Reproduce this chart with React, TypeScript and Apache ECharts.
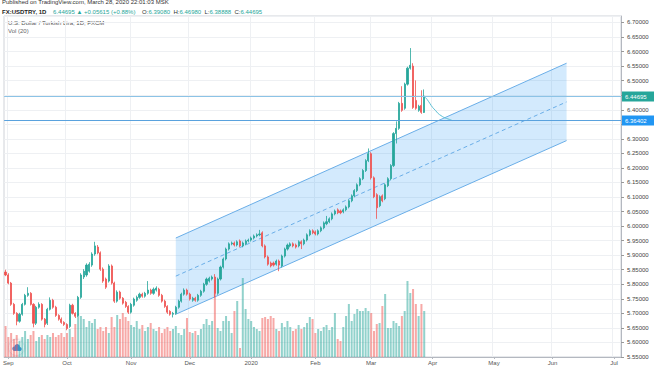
import React, { useEffect, useRef } from 'react';
import * as echarts from 'echarts';

// ---------- data ----------
const START = [2019, 7, 30]; // first bar: 2019-08-30 (weekdays only)
const TOTAL_BARS = 221; // through early July 2020 (future space on the right)
const monthLabels = ['2020', 'Feb', 'Mar', 'Apr', 'May', 'Jun', 'Jul', 'Aug', 'Sep', 'Oct', 'Nov', 'Dec'];
const priceTicks = { min: 5.55, max: 6.7223, step: 0.05 };

// [open, close, low, high]
const ohlc: number[][] = [
  [5.842, 5.832, 5.828, 5.850], [5.832, 5.804, 5.800, 5.838], [5.804, 5.731, 5.726, 5.808], [5.731, 5.700, 5.695, 5.736],
  [5.700, 5.673, 5.659, 5.704], [5.673, 5.697, 5.668, 5.702], [5.697, 5.731, 5.692, 5.736], [5.731, 5.762, 5.727, 5.767],
  [5.762, 5.769, 5.757, 5.790], [5.769, 5.731, 5.727, 5.773], [5.731, 5.666, 5.652, 5.735], [5.666, 5.721, 5.660, 5.726],
  [5.721, 5.731, 5.716, 5.738], [5.731, 5.680, 5.675, 5.735], [5.680, 5.662, 5.652, 5.684], [5.666, 5.714, 5.660, 5.719],
  [5.714, 5.745, 5.710, 5.755], [5.745, 5.721, 5.716, 5.750], [5.721, 5.693, 5.688, 5.726], [5.693, 5.680, 5.675, 5.697],
  [5.680, 5.669, 5.664, 5.686], [5.669, 5.662, 5.657, 5.673], [5.662, 5.648, 5.642, 5.666], [5.655, 5.728, 5.650, 5.733],
  [5.728, 5.700, 5.696, 5.733], [5.700, 5.690, 5.684, 5.704], [5.693, 5.755, 5.688, 5.760], [5.755, 5.832, 5.750, 5.838],
  [5.825, 5.845, 5.818, 5.852], [5.832, 5.866, 5.826, 5.872], [5.845, 5.869, 5.840, 5.876], [5.866, 5.904, 5.860, 5.910],
  [5.904, 5.932, 5.898, 5.946], [5.928, 5.908, 5.903, 5.935], [5.908, 5.852, 5.846, 5.913], [5.852, 5.811, 5.805, 5.858],
  [5.818, 5.790, 5.784, 5.823], [5.811, 5.863, 5.806, 5.869], [5.863, 5.804, 5.799, 5.868], [5.804, 5.742, 5.736, 5.809],
  [5.742, 5.773, 5.737, 5.779], [5.773, 5.752, 5.747, 5.778], [5.752, 5.735, 5.730, 5.756], [5.738, 5.724, 5.719, 5.743],
  [5.724, 5.704, 5.698, 5.728], [5.704, 5.731, 5.699, 5.736], [5.728, 5.749, 5.723, 5.754], [5.745, 5.755, 5.740, 5.761],
  [5.755, 5.766, 5.750, 5.771], [5.766, 5.759, 5.754, 5.771], [5.759, 5.769, 5.754, 5.774], [5.769, 5.780, 5.764, 5.811],
  [5.780, 5.769, 5.764, 5.785], [5.769, 5.783, 5.764, 5.789], [5.780, 5.787, 5.775, 5.793], [5.783, 5.762, 5.757, 5.788],
  [5.762, 5.742, 5.737, 5.767], [5.742, 5.724, 5.719, 5.747], [5.724, 5.704, 5.698, 5.728], [5.707, 5.697, 5.692, 5.711],
  [5.697, 5.700, 5.686, 5.705], [5.700, 5.721, 5.695, 5.726], [5.721, 5.742, 5.716, 5.747], [5.742, 5.766, 5.737, 5.771],
  [5.766, 5.780, 5.761, 5.786], [5.780, 5.766, 5.761, 5.785], [5.766, 5.749, 5.744, 5.771], [5.745, 5.752, 5.740, 5.757],
  [5.752, 5.745, 5.740, 5.757], [5.745, 5.762, 5.740, 5.767], [5.762, 5.776, 5.757, 5.781], [5.776, 5.800, 5.771, 5.805],
  [5.800, 5.818, 5.795, 5.823], [5.811, 5.821, 5.806, 5.826], [5.818, 5.825, 5.813, 5.830], [5.825, 5.769, 5.755, 5.835],
  [5.769, 5.818, 5.764, 5.823], [5.818, 5.859, 5.813, 5.864], [5.859, 5.887, 5.854, 5.892], [5.887, 5.921, 5.882, 5.926],
  [5.921, 5.939, 5.916, 5.944], [5.939, 5.942, 5.934, 5.947], [5.942, 5.935, 5.930, 5.947], [5.935, 5.946, 5.930, 5.951],
  [5.949, 5.932, 5.927, 5.954], [5.932, 5.942, 5.927, 5.947], [5.939, 5.949, 5.934, 5.954], [5.949, 5.952, 5.944, 5.957],
  [5.952, 5.959, 5.947, 5.964], [5.959, 5.966, 5.954, 5.971], [5.966, 5.970, 5.961, 5.975], [5.970, 5.973, 5.965, 5.987],
  [5.977, 5.932, 5.927, 5.982], [5.932, 5.894, 5.889, 5.937], [5.894, 5.869, 5.864, 5.899], [5.873, 5.863, 5.858, 5.878],
  [5.873, 5.866, 5.861, 5.878], [5.869, 5.880, 5.864, 5.885], [5.880, 5.866, 5.845, 5.885], [5.863, 5.897, 5.858, 5.902],
  [5.897, 5.921, 5.892, 5.926], [5.921, 5.935, 5.916, 5.940], [5.932, 5.939, 5.927, 5.944], [5.939, 5.932, 5.927, 5.944],
  [5.935, 5.928, 5.923, 5.940], [5.932, 5.946, 5.927, 5.951], [5.946, 5.939, 5.921, 5.951], [5.939, 5.952, 5.934, 5.957],
  [5.952, 5.970, 5.947, 5.975], [5.970, 5.984, 5.965, 5.989], [5.984, 5.977, 5.972, 5.989], [5.980, 5.973, 5.968, 5.985],
  [5.973, 5.984, 5.968, 5.989], [5.984, 5.994, 5.979, 5.999], [5.994, 6.011, 5.989, 6.016], [6.008, 6.015, 6.003, 6.035],
  [6.015, 6.025, 6.010, 6.030], [6.025, 6.042, 6.020, 6.047], [6.042, 6.052, 6.037, 6.057], [6.056, 6.046, 6.041, 6.061],
  [6.052, 6.046, 6.041, 6.057], [6.049, 6.056, 6.044, 6.061], [6.056, 6.066, 6.051, 6.071], [6.066, 6.087, 6.061, 6.092],
  [6.087, 6.104, 6.082, 6.109], [6.104, 6.122, 6.099, 6.127], [6.122, 6.142, 6.117, 6.147], [6.142, 6.163, 6.137, 6.168],
  [6.163, 6.191, 6.158, 6.196], [6.191, 6.225, 6.186, 6.230], [6.225, 6.249, 6.220, 6.267], [6.249, 6.166, 6.160, 6.254],
  [6.166, 6.101, 6.096, 6.171], [6.108, 6.063, 6.025, 6.113], [6.070, 6.101, 6.065, 6.106], [6.104, 6.087, 6.082, 6.109],
  [6.094, 6.142, 6.089, 6.147], [6.139, 6.163, 6.134, 6.168], [6.163, 6.208, 6.158, 6.213], [6.208, 6.318, 6.203, 6.323],
  [6.318, 6.336, 6.284, 6.360], [6.336, 6.422, 6.331, 6.427], [6.422, 6.398, 6.393, 6.481], [6.405, 6.488, 6.400, 6.493],
  [6.488, 6.543, 6.483, 6.548], [6.543, 6.553, 6.538, 6.612], [6.550, 6.408, 6.403, 6.560], [6.432, 6.405, 6.400, 6.501],
  [6.398, 6.412, 6.393, 6.417], [6.415, 6.391, 6.386, 6.467], [6.3908, 6.44695, 6.38888, 6.4698],
];

// volume (thousands, arbitrary units)
const volumes: number[] = [
  31, 20, 24, 18, 22, 16, 20, 26, 18, 22, 26, 16, 20, 22, 18, 22, 20, 24, 20, 22,
  24, 20, 24, 28, 20, 33, 43, 41, 38, 30, 36, 34, 38, 28, 30, 26, 30, 24, 40, 30,
  42, 38, 44, 40, 36, 32, 30, 36, 28, 32, 26, 30, 34, 28, 26, 30, 24, 28, 30, 26,
  28, 31, 24, 22, 28, 39, 25, 24, 26, 22, 28, 33, 38, 32, 36, 77, 29, 26, 36, 41,
  36, 24, 46, 56, 9, 79, 48, 38, 36, 30, 28, 26, 39, 40, 38, 41, 39, 28, 26, 34,
  30, 36, 30, 26, 28, 32, 28, 30, 34, 40, 38, 24, 28, 26, 30, 32, 27, 30, 44, 18,
  16, 30, 41, 53, 36, 43, 48, 46, 46, 49, 46, 44, 26, 33, 34, 51, 63, 29, 29, 36,
  34, 31, 41, 46, 76, 64, 68, 53, 41, 53, 46,
];
const volumeAxisMax = 341;

// projection curve after last bar
const tailStart = 150;
const tailCurve = [6.446, 6.436, 6.422, 6.408, 6.398, 6.387, 6.380, 6.374, 6.370, 6.367, 6.363];

// parallel channel (bar index, price)
const channelIdx = [61, 201];
const channelTop = [5.959, 6.56];
const channelBottom = [5.697, 6.294];

// horizontal price levels: last price, drawn line
const levelPrices = [6.44695, 6.36402];
const levelLineColors = ['#8cc3e6', '#5aa2de'];
const levelBoxColors = ['#26a69a', '#2196f3'];
const hiddenTickLabels = ['6.45000', '6.35000']; // covered by the price boxes

const UP = '#26a69a';
const DOWN = '#ef5350';
const FONT = '"Liberation Sans", Arial, sans-serif';

function buildDates(): string[] {
  const out: string[] = [];
  const d = new Date(Date.UTC(START[0], START[1], START[2]));
  while (out.length < TOTAL_BARS) {
    const wd = d.getUTCDay();
    if (wd !== 0 && wd !== 6) out.push(d.toISOString().slice(0, 10));
    d.setUTCDate(d.getUTCDate() + 1);
  }
  return out;
}

export default function App() {
  const ref = useRef<HTMLDivElement>(null);

  useEffect(() => {
    if (!ref.current) return;
    const chart = echarts.init(ref.current, null, { renderer: 'svg' });
    const dates = buildDates();
    const isMonthStart = (i: number) => i > 0 && dates[i].slice(5, 7) !== dates[i - 1].slice(5, 7);

    const volData = volumes.map((v, i) => ({
      value: v,
      itemStyle: { color: ohlc[i][1] >= ohlc[i][0] ? 'rgba(38,166,154,0.5)' : 'rgba(239,83,80,0.5)' },
    }));

    const lineStroke = '#6aaee8';

    const option: any = {
      animation: false,
      backgroundColor: '#ffffff',
      textStyle: { fontFamily: FONT },
      grid: { left: 4, right: 33, top: 16, bottom: 9 },
      xAxis: {
        type: 'category',
        data: dates,
        boundaryGap: true,
        axisLine: { show: true, lineStyle: { color: '#b4b8c0' } },
        axisTick: { show: true, length: 2, alignWithLabel: true, interval: (i: number) => isMonthStart(i), lineStyle: { color: '#b4b8c0' } },
        axisLabel: {
          interval: (i: number) => isMonthStart(i),
          formatter: (v: string) => monthLabels[parseInt(v.slice(5, 7), 10) - 1],
          fontSize: 6, color: '#555', margin: 3, fontFamily: FONT,
        },
        splitLine: { show: true, interval: (i: number) => isMonthStart(i), lineStyle: { color: '#eef0f3', width: 1 } },
      },
      yAxis: [
        {
          type: 'value', position: 'right', min: priceTicks.min, max: priceTicks.max, interval: priceTicks.step,
          axisLine: { show: true, lineStyle: { color: '#b4b8c0' } },
          axisTick: { show: true, length: 3, lineStyle: { color: '#999' } },
          axisLabel: {
            fontSize: 6, color: '#444', margin: 6, showMaxLabel: false, fontFamily: FONT,
            formatter: (v: number) => {
              const s = v.toFixed(5);
              return hiddenTickLabels.indexOf(s) >= 0 ? '' : s;
            },
          },
          splitLine: { show: true, lineStyle: { color: '#eef0f3', width: 1 } },
        },
        { type: 'value', min: 0, max: volumeAxisMax, show: false, splitLine: { show: false } },
      ],
      series: [
        {
          type: 'custom',
          name: 'channel',
          silent: true,
          z: 1,
          clip: false,
          data: [[channelIdx[0], channelTop[0]]],
          renderItem: (_p: any, api: any) => {
            const tl = api.coord([channelIdx[0], channelTop[0]]);
            const tr = api.coord([channelIdx[1], channelTop[1]]);
            const bl = api.coord([channelIdx[0], channelBottom[0]]);
            const br = api.coord([channelIdx[1], channelBottom[1]]);
            const ml = [(tl[0] + bl[0]) / 2, (tl[1] + bl[1]) / 2];
            const mr = [(tr[0] + br[0]) / 2, (tr[1] + br[1]) / 2];
            return {
              type: 'group',
              children: [
                { type: 'polygon', shape: { points: [tl, tr, br, bl] }, style: { fill: 'rgba(33,150,243,0.2)', stroke: 'none' } },
                { type: 'line', shape: { x1: tl[0], y1: tl[1], x2: tr[0], y2: tr[1] }, style: { stroke: lineStroke, lineWidth: 1 } },
                { type: 'line', shape: { x1: bl[0], y1: bl[1], x2: br[0], y2: br[1] }, style: { stroke: lineStroke, lineWidth: 1 } },
                { type: 'line', shape: { x1: ml[0], y1: ml[1], x2: mr[0], y2: mr[1] }, style: { stroke: lineStroke, lineWidth: 1, lineDash: [4, 3] } },
              ],
            };
          },
        },
        {
          type: 'bar',
          name: 'Vol',
          yAxisIndex: 1,
          data: volData,
          barWidth: '72%',
          silent: true,
          z: 2,
        },
        {
          type: 'candlestick',
          name: 'USDTRY',
          data: ohlc,
          barWidth: 1.6,
          z: 3,
          itemStyle: { color: UP, color0: DOWN, borderColor: UP, borderColor0: DOWN, borderWidth: 0.8 },
        },
        {
          type: 'custom',
          name: 'projection',
          silent: true,
          z: 4,
          clip: false,
          data: [[tailStart, tailCurve[0]]],
          renderItem: (_p: any, api: any) => {
            const pts = tailCurve.map((v, k) => api.coord([tailStart + k, v]));
            return {
              type: 'polyline',
              shape: { points: pts, smooth: 0.4 },
              style: { stroke: '#5cc0d4', lineWidth: 1, fill: 'none' },
            };
          },
        },
        {
          type: 'custom',
          name: 'levels',
          silent: true,
          z: 5,
          clip: false,
          data: levelPrices.map((p) => [0, p]),
          renderItem: (params: any, api: any) => {
            const cs = params.coordSys;
            const i = params.dataIndex;
            const price = api.value(1);
            const y = Math.round(api.coord([0, price])[1]) + 0.5;
            const right = cs.x + cs.width;
            return {
              type: 'group',
              children: [
                { type: 'line', shape: { x1: cs.x, y1: y, x2: right, y2: y }, style: { stroke: levelLineColors[i], lineWidth: 1 } },
                { type: 'rect', shape: { x: right + 1, y: y - 5, width: 32, height: 10 }, style: { fill: levelBoxColors[i] } },
                {
                  type: 'text',
                  style: { x: right + 4, y: y + 0.5, text: price.toFixed(5), fill: '#ffffff', fontSize: 6, fontFamily: FONT, verticalAlign: 'middle', align: 'left' },
                },
              ],
            };
          },
        },
      ],
      graphic: [
        { type: 'rect', silent: true, z: -1, shape: { x: 4, y: 16, width: 617, height: 341 }, style: { fill: 'none', stroke: '#cfd2d8', lineWidth: 1 } },
        { type: 'text', left: 2, top: -1, style: { text: 'Published on TradingView.com, March 28, 2020 22:01:03 MSK', fontSize: 6, fill: '#333', fontFamily: FONT } },
        {
          type: 'text', left: 2, top: 6,
          style: {
            text: '{b|FX:USDTRY, 1D}  {g|6.44695 ▲ +0.05615 (+0.88%)}  {d|O:}{g|6.39080} {d|H:}{g|6.46980} {d|L:}{g|6.38888} {d|C:}{g|6.44695}',
            fontFamily: FONT,
            rich: {
              b: { fontSize: 6, fontWeight: 'bold', fill: '#222', fontFamily: FONT },
              g: { fontSize: 6, fill: '#26a69a', fontFamily: FONT },
              d: { fontSize: 6, fill: '#333', fontFamily: FONT },
            },
          },
        },
        { type: 'text', left: 8, top: 20, style: { text: 'U.S. Dollar / Turkish Lira, 1D, FXCM', fontSize: 6, fill: '#555', fontFamily: FONT } },
        { type: 'text', left: 8, top: 28, style: { text: 'Vol (20)', fontSize: 6, fill: '#666', fontFamily: FONT } },
        {
          type: 'group', left: 8, top: 339, silent: true,
          children: [
            { type: 'circle', shape: { cx: 8, cy: 8, r: 8 }, style: { fill: '#ffffff', stroke: '#dde6f0', lineWidth: 1, shadowBlur: 2, shadowColor: 'rgba(0,0,0,0.15)' } },
            { type: 'circle', shape: { cx: 6, cy: 9.2, r: 2.2 }, style: { fill: '#3f8fdc' } },
            { type: 'circle', shape: { cx: 8.7, cy: 7.4, r: 2.8 }, style: { fill: '#3f8fdc' } },
            { type: 'circle', shape: { cx: 11.2, cy: 9.4, r: 2 }, style: { fill: '#3f8fdc' } },
            { type: 'rect', shape: { x: 5, y: 9.2, width: 7, height: 2.2 }, style: { fill: '#3f8fdc' } },
          ],
        },
      ],
    };

    chart.setOption(option);
    return () => chart.dispose();
  }, []);

  return (
    <div
      ref={ref}
      style={{ position: 'fixed', left: 0, top: 0, width: 654, height: 366, background: '#fff' }}
    />
  );
}
